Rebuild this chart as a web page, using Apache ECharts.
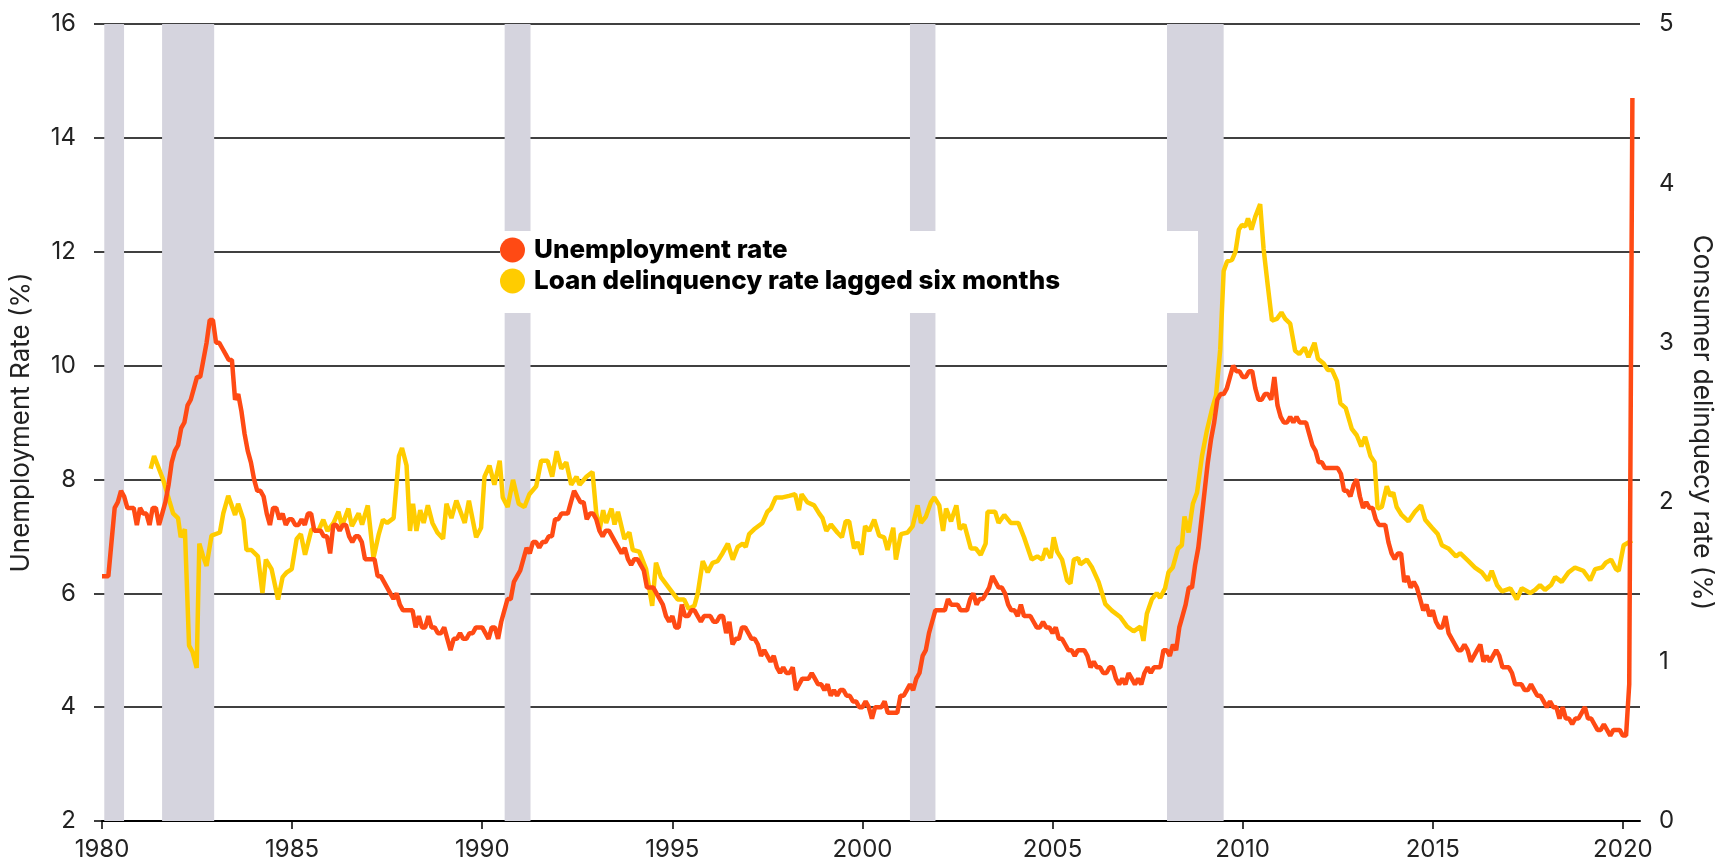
<!DOCTYPE html>
<html>
<head>
<meta charset="utf-8">
<title>Unemployment vs loan delinquency</title>
<script src="https://cdn.jsdelivr.net/npm/echarts@6/dist/echarts.min.js"></script>
<style>
  html, body { margin: 0; padding: 0; background: #fff; }
  #chart { width: 1723px; height: 865px; }
</style>
</head>
<body>
<div id="chart"></div>
<script>
// monthly US unemployment rate (%), Jan 1980 .. Apr 2020
const unemploymentStart = 1980
const unemployment = [
  6.3, 6.3, 6.3, 6.9, 7.5, 7.6, 7.8, 7.7, 7.5, 7.5, 7.5, 7.2, // 1980
  7.5, 7.4, 7.4, 7.2, 7.5, 7.5, 7.2, 7.4, 7.6, 7.9, 8.3, 8.5, // 1981
  8.6, 8.9, 9.0, 9.3, 9.4, 9.6, 9.8, 9.8, 10.1, 10.4, 10.8, 10.8, // 1982
  10.4, 10.4, 10.3, 10.2, 10.1, 10.1, 9.4, 9.5, 9.2, 8.8, 8.5, 8.3, // 1983
  8.0, 7.8, 7.8, 7.7, 7.4, 7.2, 7.5, 7.5, 7.3, 7.4, 7.2, 7.3, // 1984
  7.3, 7.2, 7.2, 7.3, 7.2, 7.4, 7.4, 7.1, 7.1, 7.1, 7.0, 7.0, // 1985
  6.7, 7.2, 7.2, 7.1, 7.2, 7.2, 7.0, 6.9, 7.0, 7.0, 6.9, 6.6, // 1986
  6.6, 6.6, 6.6, 6.3, 6.3, 6.2, 6.1, 6.0, 5.9, 6.0, 5.8, 5.7, // 1987
  5.7, 5.7, 5.7, 5.4, 5.6, 5.4, 5.4, 5.6, 5.4, 5.4, 5.3, 5.3, // 1988
  5.4, 5.2, 5.0, 5.2, 5.2, 5.3, 5.2, 5.2, 5.3, 5.3, 5.4, 5.4, // 1989
  5.4, 5.3, 5.2, 5.4, 5.4, 5.2, 5.5, 5.7, 5.9, 5.9, 6.2, 6.3, // 1990
  6.4, 6.6, 6.8, 6.7, 6.9, 6.9, 6.8, 6.9, 6.9, 7.0, 7.0, 7.3, // 1991
  7.3, 7.4, 7.4, 7.4, 7.6, 7.8, 7.7, 7.6, 7.6, 7.3, 7.4, 7.4, // 1992
  7.3, 7.1, 7.0, 7.1, 7.1, 7.0, 6.9, 6.8, 6.7, 6.8, 6.6, 6.5, // 1993
  6.6, 6.6, 6.5, 6.4, 6.1, 6.1, 6.1, 6.0, 5.9, 5.8, 5.6, 5.5, // 1994
  5.6, 5.4, 5.4, 5.8, 5.6, 5.6, 5.7, 5.7, 5.6, 5.5, 5.6, 5.6, // 1995
  5.6, 5.5, 5.5, 5.6, 5.6, 5.3, 5.5, 5.1, 5.2, 5.2, 5.4, 5.4, // 1996
  5.3, 5.2, 5.2, 5.1, 4.9, 5.0, 4.9, 4.8, 4.9, 4.7, 4.6, 4.7, // 1997
  4.6, 4.6, 4.7, 4.3, 4.4, 4.5, 4.5, 4.5, 4.6, 4.5, 4.4, 4.4, // 1998
  4.3, 4.4, 4.2, 4.3, 4.2, 4.3, 4.3, 4.2, 4.2, 4.1, 4.1, 4.0, // 1999
  4.0, 4.1, 4.0, 3.8, 4.0, 4.0, 4.0, 4.1, 3.9, 3.9, 3.9, 3.9, // 2000
  4.2, 4.2, 4.3, 4.4, 4.3, 4.5, 4.6, 4.9, 5.0, 5.3, 5.5, 5.7, // 2001
  5.7, 5.7, 5.7, 5.9, 5.8, 5.8, 5.8, 5.7, 5.7, 5.7, 5.9, 6.0, // 2002
  5.8, 5.9, 5.9, 6.0, 6.1, 6.3, 6.2, 6.1, 6.1, 6.0, 5.8, 5.7, // 2003
  5.7, 5.6, 5.8, 5.6, 5.6, 5.6, 5.5, 5.4, 5.4, 5.5, 5.4, 5.4, // 2004
  5.3, 5.4, 5.2, 5.2, 5.1, 5.0, 5.0, 4.9, 5.0, 5.0, 5.0, 4.9, // 2005
  4.7, 4.8, 4.7, 4.7, 4.6, 4.6, 4.7, 4.7, 4.5, 4.4, 4.5, 4.4, // 2006
  4.6, 4.5, 4.4, 4.5, 4.4, 4.6, 4.7, 4.6, 4.7, 4.7, 4.7, 5.0, // 2007
  5.0, 4.9, 5.1, 5.0, 5.4, 5.6, 5.8, 6.1, 6.1, 6.5, 6.8, 7.3, // 2008
  7.8, 8.3, 8.7, 9.0, 9.4, 9.5, 9.5, 9.6, 9.8, 10.0, 9.9, 9.9, // 2009
  9.8, 9.8, 9.9, 9.9, 9.6, 9.4, 9.4, 9.5, 9.5, 9.4, 9.8, 9.3, // 2010
  9.1, 9.0, 9.0, 9.1, 9.0, 9.1, 9.0, 9.0, 9.0, 8.8, 8.6, 8.5, // 2011
  8.3, 8.3, 8.2, 8.2, 8.2, 8.2, 8.2, 8.1, 7.8, 7.8, 7.7, 7.9, // 2012
  8.0, 7.7, 7.5, 7.6, 7.5, 7.5, 7.3, 7.2, 7.2, 7.2, 6.9, 6.7, // 2013
  6.6, 6.7, 6.7, 6.2, 6.3, 6.1, 6.2, 6.1, 5.9, 5.7, 5.8, 5.6, // 2014
  5.7, 5.5, 5.4, 5.4, 5.6, 5.3, 5.2, 5.1, 5.0, 5.0, 5.1, 5.0, // 2015
  4.8, 4.9, 5.0, 5.1, 4.8, 4.9, 4.8, 4.9, 5.0, 4.9, 4.7, 4.7, // 2016
  4.7, 4.6, 4.4, 4.4, 4.4, 4.3, 4.3, 4.4, 4.3, 4.2, 4.2, 4.1, // 2017
  4.0, 4.1, 4.0, 4.0, 3.8, 4.0, 3.8, 3.8, 3.7, 3.8, 3.8, 3.9, // 2018
  4.0, 3.8, 3.8, 3.7, 3.6, 3.6, 3.7, 3.6, 3.5, 3.6, 3.6, 3.6, // 2019
  3.5, 3.5, 4.4, 14.7 // 2020
]

// consumer loan delinquency rate (%), lagged six months
const delinqYears = [
  1981.28, 1981.37, 1981.61, 1981.77, 1981.87, 1982.00, 1982.07, 1982.18, 1982.29, 1982.38,
  1982.49, 1982.56, 1982.66, 1982.75, 1982.88, 1983.10, 1983.19, 1983.32, 1983.50, 1983.58,
  1983.72, 1983.80, 1983.93, 1984.10, 1984.22, 1984.31, 1984.46, 1984.63, 1984.75, 1984.86,
  1984.99, 1985.12, 1985.23, 1985.34, 1985.51, 1985.69, 1985.82, 1985.93, 1986.09, 1986.22,
  1986.31, 1986.48, 1986.57, 1986.75, 1986.84, 1986.99, 1987.14, 1987.28, 1987.39, 1987.50,
  1987.67, 1987.81, 1987.89, 1988.01, 1988.10, 1988.18, 1988.27, 1988.37, 1988.46, 1988.57,
  1988.69, 1988.82, 1988.97, 1989.06, 1989.19, 1989.32, 1989.54, 1989.65, 1989.84, 1989.97,
  1990.06, 1990.19, 1990.32, 1990.46, 1990.54, 1990.67, 1990.81, 1990.96, 1991.11, 1991.24,
  1991.42, 1991.55, 1991.72, 1991.84, 1991.96, 1992.08, 1992.21, 1992.34, 1992.48, 1992.56,
  1992.74, 1992.90, 1993.00, 1993.09, 1993.18, 1993.26, 1993.40, 1993.48, 1993.57, 1993.74,
  1993.87, 1993.96, 1994.13, 1994.31, 1994.47, 1994.57, 1994.70, 1994.92, 1995.14, 1995.31,
  1995.43, 1995.58, 1995.67, 1995.80, 1995.93, 1996.06, 1996.19, 1996.32, 1996.46, 1996.59,
  1996.72, 1996.85, 1996.93, 1997.02, 1997.15, 1997.37, 1997.50, 1997.59, 1997.72, 1997.90,
  1998.07, 1998.23, 1998.33, 1998.40, 1998.55, 1998.73, 1998.86, 1998.95, 1999.05, 1999.17,
  1999.34, 1999.46, 1999.56, 1999.65, 1999.78, 1999.87, 1999.98, 2000.07, 2000.18, 2000.31,
  2000.44, 2000.57, 2000.66, 2000.81, 2000.88, 2001.01, 2001.19, 2001.32, 2001.45, 2001.54,
  2001.67, 2001.80, 2001.89, 2002.02, 2002.12, 2002.20, 2002.33, 2002.47, 2002.56, 2002.68,
  2002.85, 2002.98, 2003.11, 2003.24, 2003.29, 2003.49, 2003.58, 2003.73, 2003.90, 2004.10,
  2004.25, 2004.45, 2004.60, 2004.73, 2004.82, 2004.95, 2005.03, 2005.12, 2005.25, 2005.38,
  2005.47, 2005.56, 2005.67, 2005.73, 2005.90, 2006.04, 2006.21, 2006.39, 2006.56, 2006.78,
  2006.96, 2007.13, 2007.31, 2007.39, 2007.48, 2007.61, 2007.74, 2007.83, 2007.96, 2008.05,
  2008.16, 2008.30, 2008.40, 2008.47, 2008.58, 2008.69, 2008.80, 2008.93, 2009.06, 2009.19,
  2009.30, 2009.41, 2009.50, 2009.59, 2009.72, 2009.81, 2009.90, 2009.98, 2010.07, 2010.14,
  2010.23, 2010.33, 2010.46, 2010.55, 2010.66, 2010.77, 2010.90, 2011.02, 2011.12, 2011.25,
  2011.38, 2011.49, 2011.63, 2011.73, 2011.89, 2011.98, 2012.13, 2012.24, 2012.35, 2012.48,
  2012.57, 2012.71, 2012.87, 2013.00, 2013.12, 2013.22, 2013.36, 2013.47, 2013.55, 2013.66,
  2013.79, 2013.88, 2013.96, 2014.05, 2014.18, 2014.36, 2014.53, 2014.69, 2014.80, 2014.98,
  2015.13, 2015.24, 2015.41, 2015.61, 2015.72, 2015.94, 2016.11, 2016.29, 2016.45, 2016.55,
  2016.69, 2016.82, 2017.04, 2017.21, 2017.34, 2017.56, 2017.69, 2017.82, 2017.95, 2018.11,
  2018.22, 2018.39, 2018.57, 2018.74, 2018.96, 2019.14, 2019.27, 2019.45, 2019.55, 2019.69,
  2019.82, 2019.89, 2020.02, 2020.24
]
const delinqRates = [
  2.21, 2.29, 2.14, 2.01, 1.93, 1.90, 1.78, 1.83, 1.10, 1.06,
  0.96, 1.74, 1.66, 1.60, 1.79, 1.81, 1.93, 2.04, 1.92, 1.99,
  1.89, 1.70, 1.70, 1.66, 1.43, 1.64, 1.58, 1.39, 1.53, 1.56,
  1.58, 1.77, 1.80, 1.67, 1.83, 1.82, 1.89, 1.82, 1.87, 1.94,
  1.85, 1.96, 1.85, 1.93, 1.86, 1.98, 1.65, 1.80, 1.89, 1.87,
  1.90, 2.29, 2.34, 2.23, 1.82, 1.99, 1.82, 1.95, 1.87, 1.98,
  1.87, 1.81, 1.77, 1.99, 1.90, 2.01, 1.87, 2.01, 1.78, 1.84,
  2.16, 2.23, 2.11, 2.26, 2.03, 1.97, 2.14, 1.99, 1.97, 2.05,
  2.10, 2.26, 2.26, 2.16, 2.32, 2.21, 2.25, 2.11, 2.16, 2.11,
  2.16, 2.19, 1.93, 1.83, 1.95, 1.87, 1.96, 1.86, 1.94, 1.77,
  1.81, 1.70, 1.69, 1.58, 1.35, 1.62, 1.53, 1.46, 1.39, 1.39,
  1.33, 1.35, 1.43, 1.63, 1.56, 1.62, 1.63, 1.68, 1.74, 1.64,
  1.72, 1.74, 1.72, 1.80, 1.83, 1.87, 1.94, 1.96, 2.03, 2.03,
  2.04, 2.05, 1.95, 2.05, 2.00, 1.98, 1.93, 1.90, 1.82, 1.86,
  1.81, 1.78, 1.88, 1.88, 1.71, 1.75, 1.67, 1.85, 1.82, 1.89,
  1.79, 1.78, 1.70, 1.84, 1.64, 1.80, 1.81, 1.85, 1.98, 1.87,
  1.91, 2.00, 2.03, 1.98, 1.82, 1.96, 1.88, 1.98, 1.83, 1.86,
  1.71, 1.71, 1.67, 1.74, 1.94, 1.94, 1.87, 1.92, 1.87, 1.87,
  1.78, 1.64, 1.66, 1.64, 1.71, 1.65, 1.78, 1.69, 1.64, 1.51,
  1.49, 1.64, 1.65, 1.61, 1.64, 1.59, 1.50, 1.36, 1.32, 1.28,
  1.22, 1.19, 1.22, 1.13, 1.30, 1.39, 1.43, 1.40, 1.46, 1.56,
  1.59, 1.71, 1.73, 1.91, 1.81, 1.99, 2.06, 2.29, 2.45, 2.58,
  2.67, 2.96, 3.45, 3.51, 3.52, 3.57, 3.71, 3.74, 3.73, 3.78,
  3.71, 3.79, 3.87, 3.59, 3.36, 3.14, 3.15, 3.19, 3.15, 3.12,
  2.95, 2.93, 2.97, 2.91, 3.00, 2.90, 2.87, 2.83, 2.83, 2.76,
  2.62, 2.59, 2.46, 2.42, 2.35, 2.41, 2.29, 2.25, 1.96, 1.97,
  2.10, 2.04, 2.06, 1.97, 1.92, 1.88, 1.94, 1.98, 1.89, 1.84,
  1.80, 1.73, 1.71, 1.66, 1.68, 1.63, 1.59, 1.56, 1.51, 1.57,
  1.48, 1.44, 1.46, 1.39, 1.46, 1.43, 1.45, 1.48, 1.45, 1.48,
  1.53, 1.50, 1.56, 1.59, 1.57, 1.51, 1.58, 1.59, 1.62, 1.64,
  1.58, 1.57, 1.73, 1.76
]

// recession periods (shaded)
const recessionStart = [1980.06, 1981.58, 1990.59, 2001.25, 2008.01]
const recessionEnd = [1980.58, 1982.95, 1991.27, 2001.92, 2009.50]

const xTicks = [1980, 1985, 1990, 1995, 2000, 2005, 2010, 2015, 2020]

const FONT = 'Inter, "Noto Sans", sans-serif'
const RED = '#ff4a14'
const YELLOW = '#ffcc00'

const chart = echarts.init(document.getElementById('chart'))

const unemploymentData = unemployment.map((v, i) => [unemploymentStart + i / 12, v])
const delinqData = delinqYears.map((y, i) => [y, delinqRates[i]])
const recessionAreas = recessionStart.map((s, i) => [{ xAxis: s }, { xAxis: recessionEnd[i] }])

const option = {
  animation: false,
  backgroundColor: '#fff',
  textStyle: { fontFamily: FONT },
  grid: { left: 102, right: 80, top: 24, bottom: 44 },
  // white box behind the legend, it hides gridline and shading
  graphic: [
    {
      type: 'rect',
      left: 500,
      top: 231,
      z: 5,
      silent: true,
      shape: { width: 698, height: 82 },
      style: { fill: '#fff' }
    }
  ],
  legend: {
    data: ['Unemployment rate', 'Loan delinquency rate lagged six months'],
    orient: 'vertical',
    left: 500,
    top: 237,
    icon: 'circle',
    itemWidth: 25,
    itemHeight: 25,
    itemGap: 5,
    padding: 0,
    z: 6,
    textStyle: {
      fontFamily: FONT,
      fontSize: 26,
      fontWeight: 800,
      color: '#000',
      padding: [0, 0, 0, 4]
    }
  },
  xAxis: {
    type: 'value',
    min: 1980,
    max: 2020.45,
    interval: 5,
    axisLine: { lineStyle: { color: '#000', width: 2 } },
    axisTick: { show: true, length: 8, customValues: xTicks, lineStyle: { color: '#000', width: 1.5 } },
    axisLabel: {
      customValues: xTicks,
      margin: 17,
      fontSize: 24,
      color: '#222',
      formatter: v => String(Math.round(v))
    },
    splitLine: { show: false }
  },
  yAxis: [
    {
      type: 'value',
      min: 2,
      max: 16,
      interval: 2,
      name: 'Unemployment Rate (%)',
      nameLocation: 'middle',
      nameGap: 68,
      nameTextStyle: { fontSize: 26, color: '#222', fontFamily: FONT },
      axisLine: { show: false },
      axisTick: { show: true, length: 8, lineStyle: { color: '#000', width: 1.5 } },
      axisLabel: { margin: 26, fontSize: 24, color: '#222' },
      splitLine: { lineStyle: { color: '#000', width: 1.5 } }
    },
    {
      type: 'value',
      min: 0,
      max: 5,
      interval: 1,
      name: 'Consumer delinquecy rate (%)',
      nameLocation: 'middle',
      nameGap: 49,
      nameRotate: -90,
      nameTextStyle: { fontSize: 26, color: '#222', fontFamily: FONT },
      axisLine: { show: false },
      axisTick: { show: false },
      axisLabel: { margin: 19, fontSize: 24, color: '#222' },
      splitLine: { show: false }
    }
  ],
  series: [
    {
      name: 'Recessions',
      type: 'line',
      data: [],
      z: 1,
      silent: true,
      markArea: {
        silent: true,
        itemStyle: { color: '#d5d4de' },
        data: recessionAreas
      }
    },
    {
      name: 'Loan delinquency rate lagged six months',
      type: 'line',
      yAxisIndex: 1,
      data: delinqData,
      color: YELLOW,
      showSymbol: false,
      z: 3,
      lineStyle: { color: YELLOW, width: 4.5 }
    },
    {
      name: 'Unemployment rate',
      type: 'line',
      data: unemploymentData,
      color: RED,
      showSymbol: false,
      z: 4,
      lineStyle: { color: RED, width: 4.5 }
    }
  ]
}

chart.setOption(option)
</script>
</body>
</html>
